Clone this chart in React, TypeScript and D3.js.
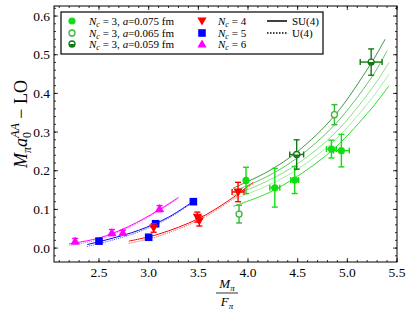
import React from 'react';
import * as d3 from 'd3';

// [x, y, xerr, yerr]
const nc6Points = [
  [2.26, 0.018, 0, 0.007],
  [2.63, 0.04, 0, 0.008],
  [2.74, 0.04, 0, 0.006],
  [3.11, 0.102, 0, 0.008],
];
const nc5Points = [
  [2.5, 0.018, 0, 0.005],
  [3.0, 0.028, 0, 0.006],
  [3.07, 0.063, 0, 0.006],
  [3.45, 0.12, 0, 0.005],
];
const nc4Points = [
  [3.05, 0.052, 0, 0.011],
  [3.49, 0.08, 0, 0.013],
  [3.51, 0.07, 0, 0.013],
  [3.9, 0.145, 0.06, 0.025],
];
const nc3aPoints = [
  [3.98, 0.175, 0, 0.034],
  [4.27, 0.156, 0.05, 0.05],
  [4.47, 0.176, 0.04, 0.035],
  [4.84, 0.256, 0.05, 0.023],
  [4.94, 0.252, 0.08, 0.042],
];
const nc3bPoints = [
  [3.91, 0.088, 0, 0.023],
  [4.87, 0.345, 0, 0.026],
];
const nc3cPoints = [
  [4.49, 0.242, 0.07, 0.038],
  [5.24, 0.481, 0.11, 0.034],
];

// fit curves
const fitNc6 = [[2.2, 0.011], [2.5, 0.026], [2.8, 0.056], [3.1, 0.098], [3.3, 0.131]];
const fitNc6U = [[2.2, 0.007], [2.5, 0.022], [2.8, 0.053], [3.1, 0.096], [3.3, 0.129]];
const fitNc5 = [[2.38, 0.009], [2.6, 0.023], [2.9, 0.046], [3.2, 0.08], [3.45, 0.121]];
const fitNc5U = [[2.38, 0.004], [2.6, 0.018], [2.9, 0.042], [3.2, 0.077], [3.45, 0.119]];
const fitNc4 = [[2.8, 0.018], [3.1, 0.036], [3.5, 0.076], [3.8, 0.122], [4.05, 0.17]];
const fitNc4U = [[2.8, 0.012], [3.1, 0.031], [3.5, 0.072], [3.8, 0.118], [4.05, 0.166]];
const fitGreenDark = [[3.85, 0.155], [4.2, 0.198], [4.5, 0.25], [4.87, 0.342], [5.24, 0.478], [5.38, 0.54]];
const fitGreenMid = [[3.85, 0.146], [4.2, 0.186], [4.5, 0.234], [4.87, 0.318], [5.24, 0.44], [5.4, 0.51]];
const fitGreenLight1 = [[3.85, 0.136], [4.2, 0.174], [4.5, 0.218], [4.87, 0.296], [5.24, 0.41], [5.42, 0.48]];
const fitGreenLight2 = [[3.85, 0.126], [4.2, 0.162], [4.5, 0.204], [4.87, 0.278], [5.24, 0.385], [5.42, 0.45]];
const fitGreenBright = [[3.85, 0.108], [4.2, 0.142], [4.5, 0.186], [4.87, 0.258], [5.24, 0.36], [5.42, 0.42]];

const xMajor = [2.5, 3.0, 3.5, 4.0, 4.5, 5.0, 5.5];
const yMajor = [0.0, 0.1, 0.2, 0.3, 0.4, 0.5, 0.6];

const GREEN_A = '#12dd12';
const GREEN_B = '#35b835';
const GREEN_C = '#137a13';

const W = 414;
const H = 316;
const L = 54, R = 397, T = 6, B = 262;

const x = d3.scaleLinear().domain([2.047, 5.5]).range([L, R]);
const y = d3.scaleLinear().domain([-0.036, 0.626]).range([B, T]);

const line = d3.line<number[]>()
  .x((d) => x(d[0]))
  .y((d) => y(d[1]))
  .curve(d3.curveCatmullRom);

const serif = "'Liberation Serif', 'DejaVu Serif', serif";

function ErrBars({ pts, color }: { pts: number[][]; color: string }) {
  return (
    <g stroke={color} strokeWidth={1.4} fill="none">
      {pts.map((p, i) => {
        const cx = x(p[0]);
        const cy = y(p[1]);
        const c = 3;
        return (
          <g key={i}>
            {p[3] > 0 && (
              <>
                <line x1={cx} x2={cx} y1={y(p[1] - p[3])} y2={y(p[1] + p[3])} />
                <line x1={cx - c} x2={cx + c} y1={y(p[1] - p[3])} y2={y(p[1] - p[3])} />
                <line x1={cx - c} x2={cx + c} y1={y(p[1] + p[3])} y2={y(p[1] + p[3])} />
              </>
            )}
            {p[2] > 0 && (
              <>
                <line y1={cy} y2={cy} x1={x(p[0] - p[2])} x2={x(p[0] + p[2])} />
                <line y1={cy - c} y2={cy + c} x1={x(p[0] - p[2])} x2={x(p[0] - p[2])} />
                <line y1={cy - c} y2={cy + c} x1={x(p[0] + p[2])} x2={x(p[0] + p[2])} />
              </>
            )}
          </g>
        );
      })}
    </g>
  );
}

function Marker({ kind, cx, cy, color }: { kind: string; cx: number; cy: number; color: string }) {
  const r = 3.6;
  if (kind === 'circle') return <circle cx={cx} cy={cy} r={r} fill={color} />;
  if (kind === 'open') return <circle cx={cx} cy={cy} r={r - 0.6} fill="white" stroke={color} strokeWidth={1.3} />;
  if (kind === 'half')
    return (
      <g>
        <circle cx={cx} cy={cy} r={r - 0.6} fill="white" stroke={color} strokeWidth={1.3} />
        <path d={`M${cx - r + 0.6},${cy} A${r - 0.6},${r - 0.6} 0 0 0 ${cx + r - 0.6},${cy} Z`} fill={color} />
      </g>
    );
  if (kind === 'square') return <rect x={cx - 3.8} y={cy - 3.8} width={7.6} height={7.6} fill={color} />;
  if (kind === 'tridown') {
    const s = 4.6;
    return <path d={`M${cx - s},${cy - s * 0.75} L${cx + s},${cy - s * 0.75} L${cx},${cy + s} Z`} fill={color} />;
  }
  const s = 4.6;
  return <path d={`M${cx - s},${cy + s * 0.75} L${cx + s},${cy + s * 0.75} L${cx},${cy - s} Z`} fill={color} />;
}

function Series({ pts, color, kind }: { pts: number[][]; color: string; kind: string }) {
  return (
    <g>
      <ErrBars pts={pts} color={color} />
      {pts.map((p, i) => (
        <Marker key={i} kind={kind} cx={x(p[0])} cy={y(p[1])} color={color} />
      ))}
    </g>
  );
}

export default function App() {
  const xMinor = d3.range(21, 56).map((v) => v / 10);
  const yMinor = d3.range(-1, 32).map((v) => v / 50);
  const fits: [number[][], string, number, string | undefined][] = [
    [fitNc6, '#ff00ff', 1, undefined],
    [fitNc6U, '#ff00ff', 0.7, '1,1'],
    [fitNc5, '#0000ff', 1, undefined],
    [fitNc5U, '#0000ff', 0.7, '1,1'],
    [fitNc4, '#ff0000', 1, undefined],
    [fitNc4U, '#ff0000', 0.7, '1,1'],
    [fitGreenBright, GREEN_A, 0.9, undefined],
    [fitGreenLight2, '#8fe88f', 0.8, undefined],
    [fitGreenLight1, '#66d866', 0.8, undefined],
    [fitGreenMid, GREEN_B, 0.8, undefined],
    [fitGreenDark, GREEN_C, 0.8, undefined],
  ];
  const legendText = (a: string) => (
    <>
      <tspan fontStyle="italic">N</tspan>
      <tspan fontStyle="italic" fontSize={8} dy={2}>c</tspan>
      <tspan dy={-2}> = 3, </tspan>
      <tspan fontStyle="italic">a</tspan>
      <tspan>={a} fm</tspan>
    </>
  );
  const ncText = (n: number) => (
    <>
      <tspan fontStyle="italic">N</tspan>
      <tspan fontStyle="italic" fontSize={8} dy={2}>c</tspan>
      <tspan dy={-2}> = {n}</tspan>
    </>
  );
  return (
    <svg width={W} height={H} style={{ position: 'absolute', left: 0, top: 0, background: 'white', fontFamily: serif }}>
      <defs>
        <clipPath id="plot">
          <rect x={L} y={T} width={R - L} height={B - T} />
        </clipPath>
      </defs>
      <g clipPath="url(#plot)">
        {fits.map(([d, c, w, dash], i) => (
          <path key={i} d={line(d) || ''} fill="none" stroke={c} strokeWidth={w} strokeDasharray={dash} />
        ))}
        <Series pts={nc6Points} color="#ff00ff" kind="triup" />
        <Series pts={nc5Points} color="#0000ff" kind="square" />
        <Series pts={nc4Points} color="#ff0000" kind="tridown" />
        <Series pts={nc3aPoints} color={GREEN_A} kind="circle" />
        <Series pts={nc3bPoints} color={GREEN_B} kind="open" />
        <Series pts={nc3cPoints} color={GREEN_C} kind="half" />
      </g>

      {/* frame and ticks */}
      <rect x={L} y={T} width={R - L} height={B - T} fill="none" stroke="black" strokeWidth={1} />
      <g stroke="black" strokeWidth={0.8}>
        {xMajor.map((v) => (
          <g key={'xm' + v}>
            <line x1={x(v)} x2={x(v)} y1={B} y2={B - 4} />
            <line x1={x(v)} x2={x(v)} y1={T} y2={T + 4} />
          </g>
        ))}
        {xMinor.map((v) => (
          <g key={'xn' + v}>
            <line x1={x(v)} x2={x(v)} y1={B} y2={B - 2} />
            <line x1={x(v)} x2={x(v)} y1={T} y2={T + 2} />
          </g>
        ))}
        {yMajor.map((v) => (
          <g key={'ym' + v}>
            <line x1={L} x2={L + 4} y1={y(v)} y2={y(v)} />
            <line x1={R} x2={R - 4} y1={y(v)} y2={y(v)} />
          </g>
        ))}
        {yMinor.map((v) => (
          <g key={'yn' + v}>
            <line x1={L} x2={L + 2} y1={y(v)} y2={y(v)} />
            <line x1={R} x2={R - 2} y1={y(v)} y2={y(v)} />
          </g>
        ))}
      </g>
      <g fontSize={13.5} fill="black">
        {xMajor.map((v) => (
          <text key={'xl' + v} x={x(v)} y={B + 15} textAnchor="middle">{v.toFixed(1)}</text>
        ))}
        {yMajor.map((v) => (
          <text key={'yl' + v} x={L - 4} y={y(v) + 4.5} textAnchor="end">{v.toFixed(1)}</text>
        ))}
      </g>

      {/* axis labels */}
      <g fontSize={13} textAnchor="middle">
        <text x={227} y={288}>
          <tspan fontStyle="italic">M</tspan>
          <tspan fontStyle="italic" fontSize={9} dy={3}>π</tspan>
        </text>
        <line x1={216} x2={238} y1={293} y2={293} stroke="black" strokeWidth={0.8} />
        <text x={227} y={306}>
          <tspan fontStyle="italic">F</tspan>
          <tspan fontStyle="italic" fontSize={9} dy={3}>π</tspan>
        </text>
      </g>
      <text transform="translate(27,124) rotate(-90)" textAnchor="middle" fontSize={18}>
        <tspan fontStyle="italic">M</tspan>
        <tspan fontStyle="italic" fontSize={12} dy={4}>π</tspan>
        <tspan fontStyle="italic" dy={-4}>a</tspan>
        <tspan fontSize={12} dy={4}>0</tspan>
        <tspan fontStyle="italic" fontSize={12} dx={-6} dy={-12}>AA</tspan>
        <tspan dy={8}> − LO</tspan>
      </text>

      {/* legend */}
      <g>
        <rect x={61} y={12} width={262} height={42} fill="white" stroke="black" strokeWidth={1.2} />
        <g fontSize={11}>
          <Marker kind="circle" cx={72} cy={21} color={GREEN_A} />
          <Marker kind="open" cx={72} cy={33} color={GREEN_B} />
          <Marker kind="half" cx={72} cy={44} color={GREEN_C} />
          <text x={89} y={25}>{legendText('0.075')}</text>
          <text x={89} y={37}>{legendText('0.065')}</text>
          <text x={89} y={48}>{legendText('0.059')}</text>
          <Marker kind="tridown" cx={202} cy={21} color="#ff0000" />
          <Marker kind="square" cx={202} cy={33} color="#0000ff" />
          <Marker kind="triup" cx={202} cy={44} color="#ff00ff" />
          <text x={218} y={25}>{ncText(4)}</text>
          <text x={218} y={37}>{ncText(5)}</text>
          <text x={218} y={48}>{ncText(6)}</text>
          <line x1={267} x2={287} y1={21} y2={21} stroke="black" strokeWidth={1.5} />
          <line x1={267} x2={287} y1={33} y2={33} stroke="black" strokeWidth={1.5} strokeDasharray="1.5,1.5" />
          <text x={292} y={25}>SU(4)</text>
          <text x={292} y={37}>U(4)</text>
        </g>
      </g>
    </svg>
  );
}
